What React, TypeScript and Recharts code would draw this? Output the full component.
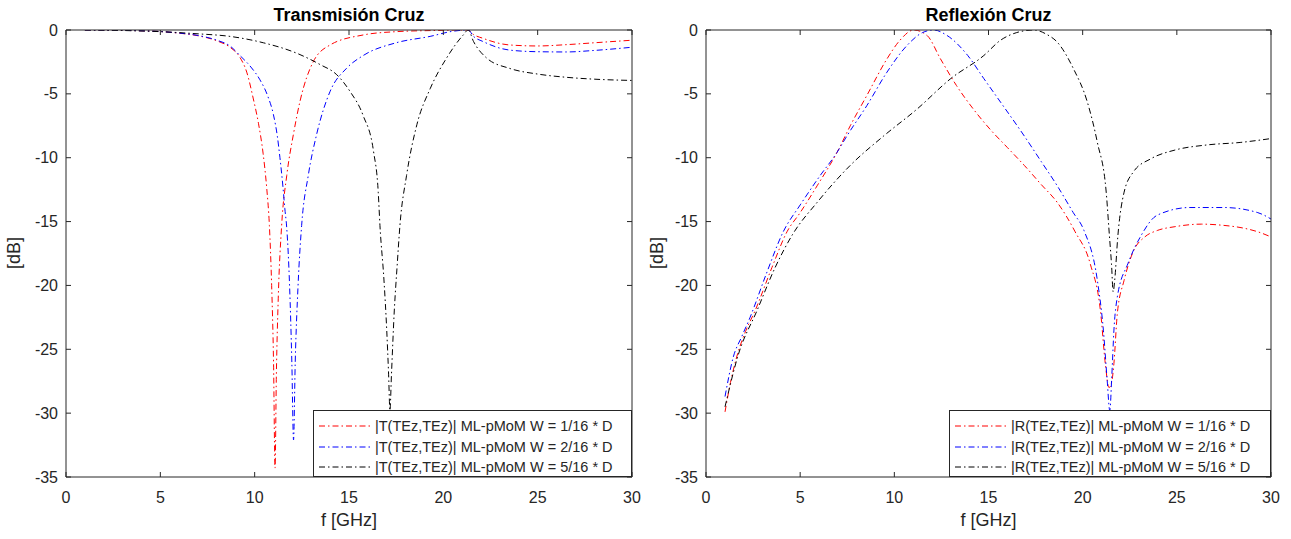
import { Line, LineChart, XAxis, YAxis } from "recharts";

type Pt = [number, number];

const X_TICKS = [0, 5, 10, 15, 20, 25, 30];
const Y_TICKS = [-35, -30, -25, -20, -15, -10, -5, 0];

// transmission, W = 1/16, 2/16, 5/16 * D
const T_W1: Pt[] = [
  [1, 0], [3, -0.03], [5, -0.12], [6, -0.25], [7, -0.45], [8, -0.85], [8.69, -1.35], [9.2, -2.1], [9.58, -3.3],
  [9.93, -5.4], [10.2, -7.3], [10.45, -9.7], [10.64, -12.4], [10.78, -15.3], [10.9, -20], [11.0, -26], [11.08, -34.3],
  [11.15, -27], [11.25, -21], [11.43, -15.3], [11.7, -11.4], [12.05, -8.2], [12.4, -5.6], [13.1, -2.5],
  [14.0, -1.17], [15.75, -0.39], [17.5, -0.13], [19.5, -0.04], [21.32, 0], [21.6, -0.35], [22.1, -0.65],
  [23.5, -1.17], [25, -1.25], [26.5, -1.15], [28, -1.0], [30, -0.8],
];
const T_W2: Pt[] = [
  [1, 0], [3, -0.03], [5, -0.12], [6, -0.24], [7, -0.43], [8, -0.8], [8.69, -1.25], [9.22, -2.0], [9.8, -2.9],
  [10.28, -3.9], [10.7, -5.2], [10.99, -6.6], [11.2, -8.3], [11.34, -10], [11.5, -12.3], [11.6, -14],
  [11.7, -15.5], [11.85, -20], [11.97, -26], [12.06, -32.1], [12.15, -26], [12.3, -20], [12.49, -15.3],
  [12.84, -11.4], [13.28, -8.2], [14.0, -4.8], [14.87, -3.0], [15.75, -2.0], [17.5, -1.0], [19.3, -0.5],
  [20.5, -0.1], [21.32, 0], [21.6, -0.5], [22.1, -0.9], [23.5, -1.57], [25, -1.7], [26.5, -1.72], [28, -1.6],
  [30, -1.35],
];
const T_W5: Pt[] = [
  [1, 0], [3, -0.04], [5, -0.13], [7, -0.3], [8.69, -0.5], [10.46, -1.0], [12.2, -1.8], [13.46, -2.7],
  [14.35, -3.5], [15.05, -4.8], [15.75, -6.7], [16.3, -9.5], [16.55, -12.7], [16.64, -15.3], [16.85, -19.5],
  [17.0, -23.5], [17.1, -27], [17.17, -29.8], [17.25, -27], [17.4, -22], [17.55, -18.5], [17.7, -15.3],
  [18.05, -11.4], [18.6, -7.4], [19.3, -4.6], [20.17, -2.2], [21.05, -0.4], [21.32, 0], [21.6, -0.9],
  [22.3, -2.2], [23.5, -3.0], [25, -3.45], [26.5, -3.7], [28, -3.85], [30, -3.95],
];

// reflection
const R_W1: Pt[] = [
  [1.01, -29.9], [1.3, -27.6], [1.63, -25.6], [2.1, -23.6], [2.6, -22], [3.5, -18.6], [4.3, -15.8],
  [5.0, -14.3], [5.9, -12.2], [6.95, -9.6], [7.66, -7.5], [8.55, -5.1], [9.61, -2.26], [10.3, -0.8],
  [11.03, 0], [11.74, -0.43], [12.45, -2.26], [13.3, -4.35], [14.2, -6.2], [15.1, -7.8], [16.0, -9.2],
  [16.9, -10.6], [17.8, -12.1], [18.65, -13.5], [19.6, -15.8], [20.4, -18.3], [20.96, -22.2], [21.2, -26.1],
  [21.4, -28], [21.55, -27.5], [21.66, -26.1], [21.84, -22.2], [22.2, -19.6], [22.7, -17.3], [23.3, -16.2],
  [23.96, -15.7], [24.9, -15.4], [26.3, -15.2], [27.5, -15.3], [28.5, -15.5], [29.3, -15.8], [30, -16.2],
];
const R_W2: Pt[] = [
  [1.01, -28.7], [1.45, -25.6], [1.9, -24], [2.34, -22.5], [3.2, -19.1], [4.1, -15.8], [5.0, -13.7],
  [6.06, -11.4], [6.95, -9.6], [7.48, -8.3], [8.55, -5.9], [9.61, -3.3], [10.68, -1.2], [11.5, -0.2],
  [12.09, 0], [12.8, -0.43], [13.9, -2.0], [14.75, -3.8], [15.64, -5.65], [16.9, -8.3], [17.8, -10.3],
  [18.65, -12.2], [19.5, -14.3], [20.07, -15.7], [20.78, -19.6], [21.1, -23.5], [21.3, -27.4], [21.44, -29.8],
  [21.55, -27], [21.66, -23.5], [21.84, -20.9], [22.4, -18.3], [23.1, -16.1], [23.96, -14.5], [25.7, -13.9],
  [27.5, -13.9], [29.3, -14.3], [30, -14.8],
];
const R_W5: Pt[] = [
  [1.01, -29.5], [1.72, -25.4], [2.7, -22], [3.67, -18.6], [4.6, -16], [5.9, -13.5], [7.66, -10.6],
  [9.43, -8.3], [11.2, -6.2], [13.0, -3.8], [14.75, -2.0], [15.64, -0.8], [16.5, -0.2], [17.4, 0],
  [18.1, -0.35], [18.65, -0.95], [19.5, -3.0], [20.25, -5.65], [20.78, -8.8], [21.25, -12.7], [21.42, -16.1],
  [21.53, -18.3], [21.62, -20.5], [21.7, -19.6], [21.87, -16.1], [22.2, -12.7], [22.7, -11.1], [23.6, -10.1],
  [24.9, -9.4], [26.6, -9.0], [28.4, -8.8], [30, -8.5],
];

const T_NAMES = [
  "|T(TEz,TEz)| ML-pMoM W = 1/16 * D",
  "|T(TEz,TEz)| ML-pMoM W = 2/16 * D",
  "|T(TEz,TEz)| ML-pMoM W = 5/16 * D",
];
const R_NAMES = [
  "|R(TEz,TEz)| ML-pMoM W = 1/16 * D",
  "|R(TEz,TEz)| ML-pMoM W = 2/16 * D",
  "|R(TEz,TEz)| ML-pMoM W = 5/16 * D",
];
const COLORS = ["#ff0000", "#0000ff", "#000000"];

const FONT = "'Liberation Sans', Arial, sans-serif";
const AXIS = "#262626";
const DASH = "6 3 1.5 3";
const H = 539;

const toRows = (pts: Pt[]) => pts.map(([x, y]) => ({ x, y }));

const BottomTick = (p: any) => (
  <g>
    <line x1={p.x} y1={p.y} x2={p.x} y2={p.y - 5} stroke={AXIS} />
    <text x={p.x} y={p.y + 20} textAnchor="middle" dominantBaseline="central" fontSize={16} fill={AXIS} fontFamily={FONT}>
      {p.payload.value}
    </text>
  </g>
);
const TopTick = (p: any) => <line x1={p.x} y1={p.y} x2={p.x} y2={p.y + 5} stroke={AXIS} />;
const LeftTick = (p: any) => (
  <g>
    <line x1={p.x} y1={p.y} x2={p.x + 5} y2={p.y} stroke={AXIS} />
    <text x={p.x - 8} y={p.y} textAnchor="end" dominantBaseline="central" fontSize={16} fill={AXIS} fontFamily={FONT}>
      {p.payload.value}
    </text>
  </g>
);
const RightTick = (p: any) => <line x1={p.x} y1={p.y} x2={p.x - 5} y2={p.y} stroke={AXIS} />;

type Box = { top: number; right: number; bottom: number; left: number };
type PanelProps = {
  title: string; series: Pt[][]; names: string[]; left: number; width: number;
  plot: Box; ylabelX: number; legend: { left: number; top: number; width: number; height: number };
};

const Panel = ({ title, series, names, left, width, plot, ylabelX, legend }: PanelProps) => {
  const plotW = width - plot.left - plot.right;
  // axes take 1px each, so the margins are one pixel smaller than the plot insets
  const margin = { top: plot.top - 1, right: plot.right - 1, bottom: plot.bottom - 1, left: plot.left - 1 };
  return (
    <div style={{ position: "absolute", left, top: 0, width, height: H }}>
      <LineChart width={width} height={H} margin={margin}>
        <XAxis xAxisId="b" type="number" dataKey="x" domain={[0, 30]} ticks={X_TICKS} height={1}
          tickSize={0} tickMargin={0} tick={<BottomTick />} stroke={AXIS} allowDataOverflow />
        <XAxis xAxisId="t" orientation="top" type="number" dataKey="x" domain={[0, 30]} ticks={X_TICKS} height={1}
          tickSize={0} tickMargin={0} tick={<TopTick />} stroke={AXIS} allowDataOverflow />
        <YAxis yAxisId="l" type="number" domain={[-35, 0]} ticks={Y_TICKS} width={1}
          tickSize={0} tickMargin={0} tick={<LeftTick />} stroke={AXIS} allowDataOverflow />
        <YAxis yAxisId="r" orientation="right" type="number" domain={[-35, 0]} ticks={Y_TICKS} width={1}
          tickSize={0} tickMargin={0} tick={<RightTick />} stroke={AXIS} allowDataOverflow />
        {series.map((s, i) => (
          <Line key={names[i]} xAxisId="b" yAxisId="l" data={toRows(s)} dataKey="y" type="monotone"
            stroke={COLORS[i]} strokeWidth={1} strokeDasharray={DASH} dot={false} activeDot={false}
            isAnimationActive={false} />
        ))}
      </LineChart>
      <div style={{ position: "absolute", left: plot.left, width: plotW, top: 5, textAlign: "center",
        fontFamily: FONT, fontWeight: "bold", fontSize: 18, color: "#000" }}>{title}</div>
      <div style={{ position: "absolute", left: plot.left, width: plotW, top: 510, textAlign: "center",
        fontFamily: FONT, fontSize: 18, color: AXIS }}>f [GHz]</div>
      <div style={{ position: "absolute", left: ylabelX - 30, top: 243, width: 60, textAlign: "center",
        transform: "rotate(-90deg)", fontFamily: FONT, fontSize: 18, color: AXIS, lineHeight: "20px" }}>[dB]</div>
      <div style={{ position: "absolute", left: legend.left, top: legend.top, width: legend.width - 2,
        height: legend.height - 2, border: `1px solid ${AXIS}`, background: "#fff" }}>
        {names.map((n, i) => (
          <div key={n} style={{ position: "absolute", left: 5, top: 5 + i * 20.5, height: 20, display: "flex",
            alignItems: "center", whiteSpace: "nowrap" }}>
            <svg width={52} height={20}>
              <line x1={0} y1={10} x2={52} y2={10} stroke={COLORS[i]} strokeDasharray={DASH} />
            </svg>
            <span style={{ marginLeft: 4, fontFamily: FONT, fontSize: 14.5, color: AXIS }}>{n}</span>
          </div>
        ))}
      </div>
    </div>
  );
};

export default function App() {
  return (
    <div style={{ position: "absolute", left: 0, top: 0, width: 1291, height: H, background: "#fff" }}>
      <Panel title="Transmisión Cruz" series={[T_W1, T_W2, T_W5]} names={T_NAMES} left={0} width={645}
        plot={{ top: 30, right: 13, bottom: 62, left: 66 }} ylabelX={14}
        legend={{ left: 313, top: 410, width: 319, height: 67 }} />
      <Panel title="Reflexión Cruz" series={[R_W1, R_W2, R_W5]} names={R_NAMES} left={645} width={646}
        plot={{ top: 30, right: 20, bottom: 62, left: 61 }} ylabelX={12}
        legend={{ left: 304, top: 410, width: 322, height: 67 }} />
    </div>
  );
}
